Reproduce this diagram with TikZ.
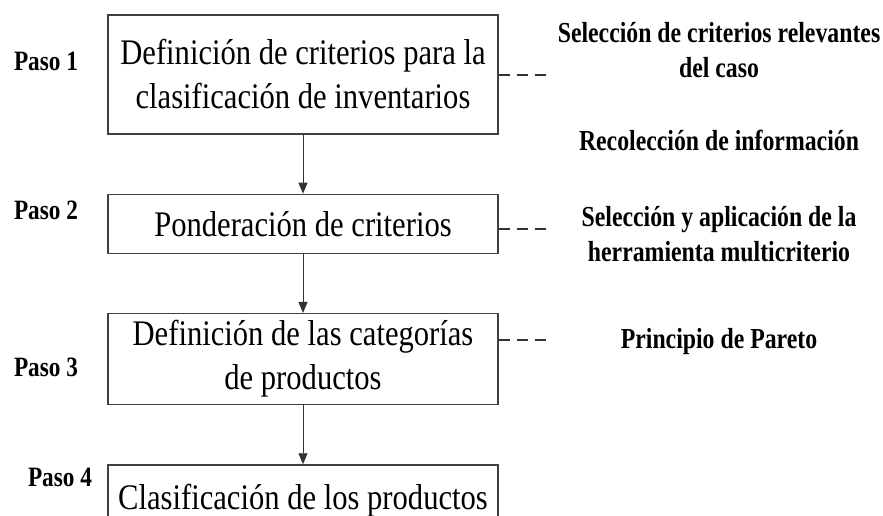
\documentclass[tikz,border=0pt]{standalone}
\usepackage{fontspec}
\setmainfont{Liberation Serif}
\newfontfamily\boxfont[FakeStretch=0.85]{Liberation Serif}
\newfontfamily\notefont[FakeStretch=0.82]{Liberation Serif}
\newfontfamily\pasofont[FakeStretch=0.83]{Liberation Serif}
\usetikzlibrary{arrows.meta,positioning}

\begin{document}
\begin{tikzpicture}[x=1pt,y=-1pt]
\tikzstyle{stepbox}=[rectangle, draw=black!75, line width=1.3pt, minimum width=390pt, inner sep=0pt, align=center, font=\boxfont\fontsize{36}{44}\selectfont, node distance=59pt]
\tikzstyle{paso}=[font=\pasofont\bfseries\fontsize{28}{32}\selectfont, inner sep=0pt]
\tikzstyle{note}=[font=\notefont\bfseries\fontsize{29}{35}\selectfont, align=center, inner sep=0pt]
\tikzstyle{connect}=[-{Triangle[width=9pt,length=11pt]}, line width=0.9pt, black!80]
\tikzstyle{dashlink}=[line width=1.3pt, black!80, dash pattern=on 11pt off 7pt]

  \useasboundingbox (0,0) rectangle (883,516);
  \clip (0,0) rectangle (883,516);

  % pasos
  \node[stepbox, minimum height=119pt] (b1) at (303,74.5) {Definición de criterios para la\\clasificación de inventarios};
  \node[stepbox, minimum height=59pt]  (b2) [below=of b1] {Ponderación de criterios};
  \node[stepbox, minimum height=91pt]  (b3) [below=of b2] {Definición de las categorías\\de productos};
  \node[stepbox, minimum height=72pt]  (b4) [below=of b3] {Clasificación de los productos};

  \node[paso] (p1) at (46,61)  {Paso 1};
  \node[paso] (p2) at (46,210) {Paso 2};
  \node[paso] (p3) at (46,367) {Paso 3};
  \node[paso] (p4) at (60,477) {Paso 4};

  % notas
  \node[note] (n1) at (719,50)  {Selección de criterios relevantes\\del caso};
  \node[note] (n2) at (719,140) {Recolección de información};
  \node[note] (n3) at (719,234) {Selección y aplicación de la\\herramienta multicriterio};
  \node[note] (n4) at (719,342) {Principio de Pareto};

  \coordinate (d1) at (548,75);
  \coordinate (d2) at (548,229);
  \coordinate (d3) at (548,340);

  \path (b1) edge [connect] (b2)
        (b2) edge [connect] (b3)
        (b3) edge [connect] (b4);

  \draw[dashlink] (b1.east |- d1) -- (d1);
  \draw[dashlink] (b2.east |- d2) -- (d2);
  \draw[dashlink] (b3.east |- d3) -- (d3);

\end{tikzpicture}
\end{document}
